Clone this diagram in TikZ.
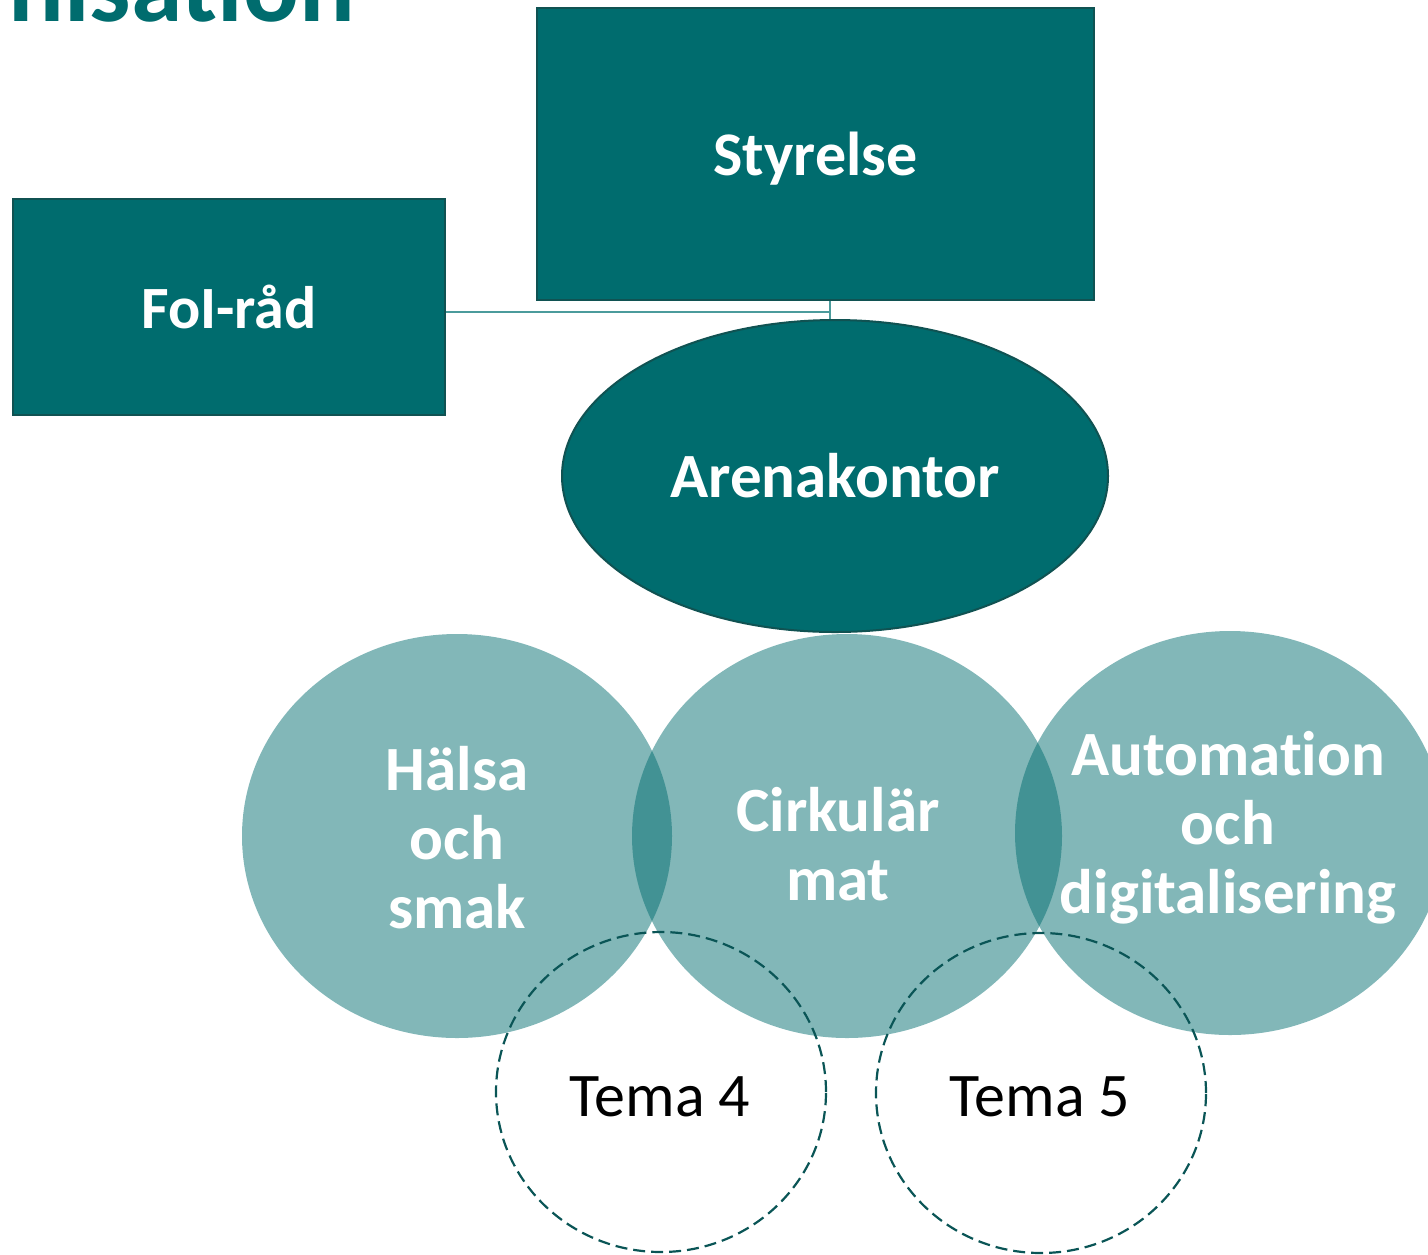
\documentclass[tikz,border=0pt]{standalone}
\usepackage{fontspec}
\setmainfont[RawFeature=-liga]{Carlito}
\usetikzlibrary{shapes.geometric,positioning}
\definecolor{teal}{RGB}{0,108,110}
\definecolor{tealedge}{RGB}{16,82,82}
\definecolor{tealline}{RGB}{75,155,156}
\definecolor{dashcol}{RGB}{10,85,86}

\begin{document}
\begin{tikzpicture}[x=0.5pt,y=-0.5pt,
    box/.style={draw=tealedge,line width=1pt,fill=teal,text=white,inner sep=0pt,
      font=\fontsize{31}{36}\selectfont\bfseries},
    oval/.style={ellipse,draw=tealedge,line width=1pt,fill=teal,text=white,inner sep=0pt,
      minimum width=273pt,minimum height=156pt,font=\fontsize{31.5}{36}\selectfont\bfseries},
    theme/.style={ellipse,fill=teal,fill opacity=0.49,inner sep=0pt,
      minimum width=215pt,minimum height=202pt},
    themetext/.style={text=white,align=center,inner sep=0pt,
      font=\fontsize{31.5}{34.5}\selectfont\bfseries},
    tema/.style={ellipse,draw=dashcol,line width=1.1pt,dash pattern=on 6pt off 3pt,inner sep=0pt,
      minimum width=165pt,minimum height=160pt},
    tematext/.style={inner sep=0pt,font=\fontsize{31}{36}\selectfont},
    link/.style={draw=tealline,line width=1pt}]
  \useasboundingbox (0,0) rectangle (1428,1254);
  % title, cut off at the top
  \node[anchor=base west,inner sep=0pt,text=teal,font=\fontsize{52}{60}\selectfont\bfseries]
    (title) at (8,21) {nisation};
  % boxes
  \node[box,minimum width=278.5pt,minimum height=146pt,text depth=0pt] (styrelse) at (815.5,154) {Styrelse};
  \node[box,minimum width=216pt,minimum height=108pt,text depth=0pt,font=\fontsize{30}{36}\selectfont\bfseries]
    (foi) at (229,307) {FoI-råd};
  \node[oval] (arena) at (835,476) {Arenakontor};
  \coordinate (junction) at (830,312);
  \draw[link] (foi.east |- junction) -- (junction);
  \draw[link] (junction |- styrelse.south) -- (junction |- arena.north);
  % themes
  \node[theme] (halsa) at (457,836) {};
  \node[theme] (cirk) at (847,836) {};
  \node[theme] (auto) at (1230,833) {};
  \node[themetext] (halsa-t) at (457,838) {Hälsa\\och\\smak};
  \node[themetext] (cirk-t) at (838,844) {Cirkulär\\mat};
  \node[themetext] (auto-t) at (1228,828) {Automation\\och\\digitalisering};
  % dashed themes
  \node[tema] (tema4) at (661,1092) {};
  \node[tema] (tema5) at (1041,1093) {};
  \node[tematext] (tema4-t) at (660,1097) {Tema 4};
  \node[tematext] (tema5-t) at (1040,1097) {Tema 5};
\end{tikzpicture}
\end{document}
